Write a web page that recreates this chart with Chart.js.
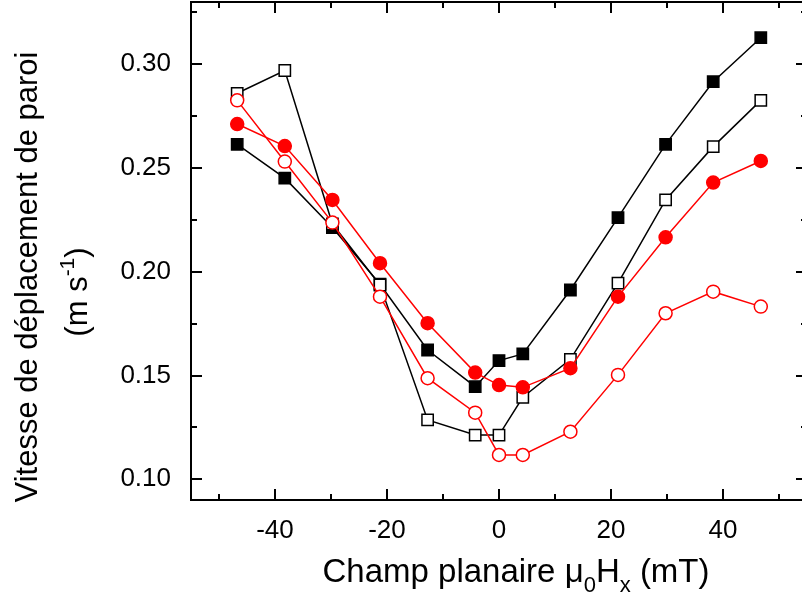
<!DOCTYPE html>
<html>
<head>
<meta charset="utf-8">
<script src="https://cdn.jsdelivr.net/npm/chart.js@4.4.1/dist/chart.umd.min.js"></script>
<style>
    body { margin: 0; background: #fff; overflow: hidden; }
    #wrap { width: 810px; height: 599px; }
</style>
</head>
<body>
<div id="wrap"><canvas id="chart" width="810" height="599"></canvas></div>
<script>
// Champ planaire (mT)
const field = [-46.75, -38.25, -29.75, -21.25, -12.75, -4.25, 0, 4.25, 12.75, 21.25, 29.75, 38.25, 46.75];

// Vitesse (m/s) pour les 4 séries
const blackFilled = [0.2614, 0.2451, 0.2213, 0.1940, 0.1623, 0.1446, 0.1572, 0.1604, 0.1912, 0.2261, 0.2614, 0.2916, 0.3128];
const blackOpen   = [0.2860, 0.2970, 0.2230, 0.1936, 0.1286, 0.1213, 0.1213, 0.1395, 0.1578, 0.1945, 0.2346, 0.2603, 0.2826];
const redFilled   = [0.2712, 0.2606, 0.2346, 0.2041, 0.1752, 0.1514, 0.1454, 0.1443, 0.1535, 0.1880, 0.2166, 0.2430, 0.2534];
const redOpen     = [0.2826, 0.2531, 0.2237, 0.1880, 0.1487, 0.1321, 0.1117, 0.1117, 0.1229, 0.1503, 0.1800, 0.1904, 0.1832];

// Graduations
const xTicks = [-40, -20, 0, 20, 40];
const xMinor = [-50, -30, -10, 10, 30, 50];
const yTicks = [0.10, 0.15, 0.20, 0.25, 0.30];
const yMinor = [0.125, 0.175, 0.225, 0.275, 0.325];

const FONT = "'Liberation Sans', Arial, sans-serif";
const RED = '#ff0000';

function toPoints(values) {
    return field.map((x, i) => ({ x: x, y: values[i] }));
}

function series(values, color, filled, shape) {
    return {
        data: toPoints(values),
        borderColor: color,
        borderWidth: 1.5,
        pointStyle: shape,
        pointRadius: shape === 'rect' ? 8 : 6.5,
        pointBackgroundColor: filled ? color : '#fff',
        pointBorderColor: color,
        pointBorderWidth: 1.5,
        tension: 0
    };
}

// Cadre + graduations vers l'intérieur sur les 4 côtés
const framePlugin = {
    id: 'frame',
    afterDraw(chart) {
        const ctx = chart.ctx;
        const a = chart.chartArea;
        const xs = chart.scales.x;
        const ys = chart.scales.y;
        ctx.save();
        ctx.strokeStyle = '#000';
        ctx.lineWidth = 2;
        ctx.strokeRect(a.left, a.top, a.right - a.left, a.bottom - a.top);

        ctx.beginPath();
        const xTick = (v, len) => {
            const px = Math.round(xs.getPixelForValue(v));
            ctx.moveTo(px, a.bottom); ctx.lineTo(px, a.bottom - len);
            ctx.moveTo(px, a.top); ctx.lineTo(px, a.top + len);
        };
        const yTick = (v, len) => {
            const py = Math.round(ys.getPixelForValue(v));
            ctx.moveTo(a.left, py); ctx.lineTo(a.left + len, py);
            ctx.moveTo(a.right, py); ctx.lineTo(a.right - len, py);
        };
        xTicks.forEach(v => xTick(v, 11));
        xMinor.forEach(v => xTick(v, 6));
        yTicks.forEach(v => yTick(v, 11));
        yMinor.forEach(v => yTick(v, 6));
        ctx.stroke();
        ctx.restore();
    }
};

// Texte avec indices / exposants, centré sur (0,0)
function drawRich(ctx, parts, size) {
    const small = Math.round(size * 0.68);
    let total = 0;
    parts.forEach(p => {
        ctx.font = (p.sub || p.sup ? small : size) + 'px ' + FONT;
        p.w = ctx.measureText(p.t).width;
        total += p.w;
    });
    let x = -total / 2;
    parts.forEach(p => {
        ctx.font = (p.sub || p.sup ? small : size) + 'px ' + FONT;
        let dy = 0;
        if (p.sub) dy = size * 0.3;
        if (p.sup) dy = -size * 0.42;
        ctx.fillText(p.t, x, dy);
        x += p.w;
    });
}

const titlePlugin = {
    id: 'titles',
    afterDraw(chart) {
        const ctx = chart.ctx;
        ctx.save();
        ctx.fillStyle = '#000';
        ctx.textBaseline = 'alphabetic';
        ctx.textAlign = 'left';

        // titre axe X
        ctx.save();
        ctx.translate(516, 582);
        drawRich(ctx, [
            { t: 'Champ planaire \u03bc' }, { t: '0', sub: true },
            { t: 'H' }, { t: 'x', sub: true }, { t: ' (mT)' }
        ], 33);
        ctx.restore();

        // titre axe Y (2 lignes, tourné)
        ctx.save();
        ctx.translate(37, 277);
        ctx.rotate(-Math.PI / 2);
        drawRich(ctx, [{ t: 'Vitesse de d\u00e9placement de paroi' }], 31);
        ctx.restore();

        ctx.save();
        ctx.translate(87, 292);
        ctx.rotate(-Math.PI / 2);
        drawRich(ctx, [{ t: '(m s' }, { t: '-1', sup: true }, { t: ')' }], 31);
        ctx.restore();

        ctx.restore();
    }
};

new Chart(document.getElementById('chart'), {
    type: 'line',
    data: {
        datasets: [
            series(redOpen, RED, false, 'circle'),
            series(redFilled, RED, true, 'circle'),
            series(blackOpen, '#000', false, 'rect'),
            series(blackFilled, '#000', true, 'rect')
        ]
    },
    options: {
        responsive: false,
        animation: false,
        devicePixelRatio: 1,
        layout: { autoPadding: false, padding: { top: 2, right: 3, bottom: 0, left: 0 } },
        plugins: { legend: { display: false }, tooltip: { enabled: false } },
        scales: {
            x: {
                type: 'linear',
                min: -55,
                max: 55,
                afterBuildTicks: s => { s.ticks = xTicks.map(v => ({ value: v })); },
                afterFit: s => { s.height = 99; s.paddingLeft = 0; s.paddingRight = 0; },
                grid: { display: false, drawTicks: false, tickLength: 0 },
                border: { display: false },
                ticks: {
                    color: '#000',
                    padding: 15,
                    maxRotation: 0,
                    font: { family: FONT, size: 26 },
                    callback: v => String(v)
                }
            },
            y: {
                type: 'linear',
                min: 0.09,
                max: 0.33,
                afterBuildTicks: s => { s.ticks = yTicks.map(v => ({ value: v })); },
                afterFit: s => { s.width = 191; s.paddingTop = 0; s.paddingBottom = 0; },
                grid: { display: false, drawTicks: false, tickLength: 0 },
                border: { display: false },
                ticks: {
                    color: '#000',
                    padding: 20,
                    font: { family: FONT, size: 26 },
                    callback: v => v.toFixed(2)
                }
            }
        }
    },
    plugins: [framePlugin, titlePlugin]
});
</script>
</body>
</html>
